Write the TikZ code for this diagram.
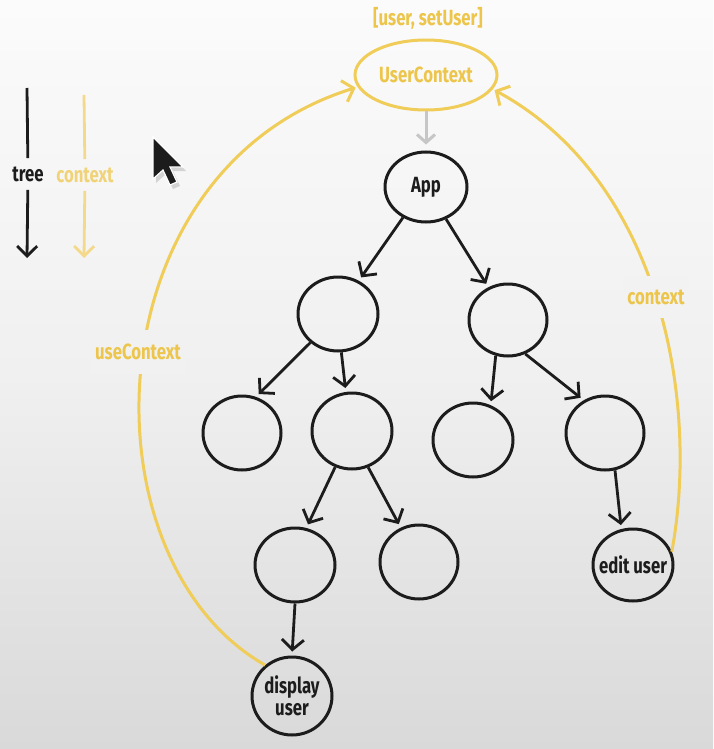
\documentclass[tikz,border=0pt]{standalone}
\usepackage{fontspec}
\setmainfont{Fira Sans}[FakeStretch=0.76]
\usetikzlibrary{arrows.meta,shapes.geometric}
\definecolor{ink}{HTML}{1C1C1C}
\definecolor{gold}{HTML}{F0CC58}
\definecolor{goldtxt}{HTML}{ECC54A}
\definecolor{goldlt}{HTML}{F4D98A}
\definecolor{grayarr}{HTML}{C6C6C6}
\definecolor{bgtop}{HTML}{FBFBFC}
\definecolor{bgmid}{HTML}{F0F0F1}
\definecolor{bgbot}{HTML}{D9D9D9}
\begin{document}
\begin{tikzpicture}[x=0.5pt,y=-0.5pt,
  circ/.style={ellipse,draw=ink,line width=1.5pt,inner sep=0pt},
  treearrow/.style={draw=ink,line width=1.4pt,-{Straight Barb[length=5pt,width=11pt]},shorten >=2pt},
  ctxarrow/.style={draw=gold,line width=1.5pt,-{Straight Barb[length=5pt,width=11pt]},shorten >=1pt},
  lbl/.style={font=\fontsize{11}{12}\selectfont\bfseries,text=ink},
  glbl/.style={font=\fontsize{11}{12}\selectfont\bfseries,text=goldtxt},
]
\useasboundingbox (0,0) rectangle (713,749);
\shade[top color=bgtop,bottom color=bgbot,middle color=bgmid] (0,0) rectangle (713,749);

% context node
\node[ellipse,draw=gold,line width=1.5pt,inner sep=0pt,minimum width=71pt,minimum height=35pt,
  label={[glbl,name=UCT]center:UserContext}] (UC) at (426,75) {};
\node[glbl] (state) at (428,18) {[user, setUser]};

% tree nodes
\node[circ,minimum width=41pt,minimum height=35pt,label={[lbl,name=AppT]center:App}] (App) at (426,187) {};
\node[circ,minimum width=40pt,minimum height=37pt] (L1) at (338,314) {};
\node[circ,minimum width=39pt,minimum height=36pt] (R1) at (508,320) {};
\node[circ,minimum width=39pt,minimum height=37pt] (LL) at (242,433) {};
\node[circ,minimum width=40pt,minimum height=38pt] (LR) at (352,431) {};
\node[circ,minimum width=40pt,minimum height=37pt] (RL) at (473,440) {};
\node[circ,minimum width=39pt,minimum height=37pt] (RR) at (605,433) {};
\node[circ,minimum width=40pt,minimum height=37pt] (LRL) at (295,565) {};
\node[circ,minimum width=39pt,minimum height=37pt] (LRR) at (419,562) {};
\node[circ,minimum width=40pt,minimum height=36pt,label={[lbl,name=EdT]center:edit user}] (Ed) at (633,565) {};
\node[circ,minimum width=40pt,minimum height=39pt,
  label={[lbl,name=DispT,align=center]center:display\\[-1pt]user}] (Disp) at (292,696) {};

% tree arrows
\draw[treearrow] (App.233) -- (L1.58);
\draw[treearrow] (App.302) -- (R1.121);
\draw[treearrow] (L1.226) -- (LL.69);
\draw[treearrow] (L1.275) -- (LR.99);
\draw[treearrow] (R1.251) -- (RL.63);
\draw[treearrow] (R1.297) -- (RR.123);
\draw[treearrow] (LR.245) -- (LRL.73);
\draw[treearrow] (LR.294) -- (LRR.118);
\draw[treearrow] (RR.285) -- (Ed.108);
\draw[treearrow] (LRL.270) -- (Disp.90);

% provider arrow
\draw[draw=grayarr,line width=1.5pt,-{Straight Barb[length=4pt,width=9pt]},shorten >=3pt] (UC.south) -- (App.north);

% context curves
\draw[ctxarrow] (Disp.131) .. controls (80,560) and (90,170) .. (UC.190);
\draw[ctxarrow] (Ed.19) .. controls (700,400) and (660,180) .. (UC.348);
\node[glbl,fill=bgmid!94!bgtop,inner xsep=2pt,inner ysep=7pt] (useL) at (138,352) {useContext};
\node[glbl,fill=bgmid!79!bgtop,inner xsep=2pt,inner ysep=7pt] (ctxL) at (656,297) {context};

% legend
\coordinate (t0) at (27,88);
\coordinate (t1) at (27,258);
\node[lbl,inner sep=4pt] (treeL) at (28,174) {tree};
\draw[ink,line width=1.4pt] (t0) -- (treeL);
\draw[ink,line width=1.4pt,-{Straight Barb[length=5pt,width=10pt]}] (treeL) -- (t1);
\coordinate (c0) at (84,95);
\coordinate (c1) at (84,258);
\node[glbl,text=goldlt!70!goldtxt,inner sep=4pt] (ctxLeg) at (85,175) {context};
\draw[goldlt,line width=1.4pt] (c0) -- (ctxLeg);
\draw[goldlt,line width=1.4pt,-{Straight Barb[length=5pt,width=10pt]}] (ctxLeg) -- (c1);

% mouse cursor
\fill[gray!60,opacity=0.5] (156,140) -- (156,183) -- (166,174) -- (173,189) -- (180,186) -- (173,171) -- (186,171) -- cycle;
\filldraw[fill=ink,draw=white,line width=0.6pt] (153,137) -- (153,179) -- (163,170) -- (170,185) -- (177,182) -- (170,167) -- (183,167) -- cycle;
\end{tikzpicture}
\end{document}
